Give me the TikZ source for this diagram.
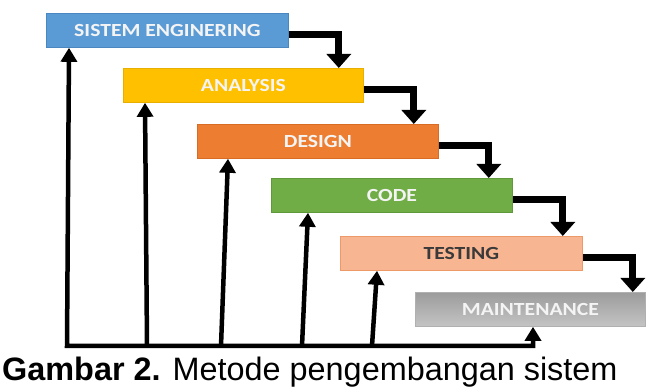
\documentclass[tikz,border=0pt]{standalone}
\usepackage{fontspec}
\setmainfont{Liberation Sans}
\newfontfamily\boxfont[FakeStretch=1.17]{Carlito}
\usetikzlibrary{arrows.meta}

\definecolor{seblue}{HTML}{5B9BD5}
\definecolor{sebluedk}{HTML}{4A86C0}
\definecolor{angold}{HTML}{FFC000}
\definecolor{angolddk}{HTML}{E8AE00}
\definecolor{deorange}{HTML}{ED7D31}
\definecolor{deorangedk}{HTML}{D86C24}
\definecolor{cogreen}{HTML}{70AD47}
\definecolor{cogreendk}{HTML}{5F9A3A}
\definecolor{tesalmon}{HTML}{F8B592}
\definecolor{tesalmondk}{HTML}{EE9A68}
\definecolor{magraytop}{HTML}{9C9C9C}
\definecolor{magraybot}{HTML}{C4C4C4}
\definecolor{magraydk}{HTML}{B0B0B0}
\definecolor{tetext}{HTML}{3A3A3A}
\definecolor{boxtext}{HTML}{F4F4F4}

\begin{document}
\begin{tikzpicture}[x=1pt,y=-1pt,
  phase/.style={draw, line width=0.8pt, anchor=north west, inner sep=0pt,
    minimum height=34pt, text=boxtext,
    font=\boxfont\bfseries\fontsize{18.5}{20}\selectfont},
  elbow/.style={line width=7pt, line join=miter,
    -{Triangle[width=24pt,length=14pt]}},
  fb/.style={line width=4.5pt, line join=miter,
    -{Triangle[width=16pt,length=14pt]}},
  fbboth/.style={line width=4.5pt, line join=miter,
    {Triangle[width=16pt,length=14pt]}-{Triangle[width=16pt,length=14pt]}}
]
\useasboundingbox (0,0) rectangle (646,387);

% phases of the waterfall
\node[phase, minimum width=242pt, fill=seblue, draw=sebluedk] (se) at (46,13) {SISTEM ENGINERING};
\node[phase, minimum width=240pt, fill=angold, draw=angolddk] (an) at (123,68) {ANALYSIS};
\node[phase, minimum width=241pt, fill=deorange, draw=deorangedk] (de) at (197,124) {DESIGN};
\node[phase, minimum width=241pt, fill=cogreen, draw=cogreendk] (co) at (271,178) {CODE};
\node[phase, minimum width=242pt, fill=tesalmon, draw=tesalmondk, text=tetext] (te) at (340,236) {TESTING};
\node[phase, minimum width=230pt, top color=magraytop, bottom color=magraybot, draw=magraydk] (ma) at (415,292) {MAINTENANCE};

% forward steps
\draw[elbow] ([yshift=-4pt]se.east) -| ([xshift=50pt]se.east |- an.north);
\draw[elbow] ([yshift=-4pt]an.east) -| ([xshift=50pt]an.east |- de.north);
\draw[elbow] ([yshift=-4pt]de.east) -| ([xshift=50pt]de.east |- co.north);
\draw[elbow] ([yshift=-4pt]co.east) -| ([xshift=50pt]co.east |- te.north);
\draw[elbow] ([yshift=-4pt]te.east) -| ([xshift=50pt]te.east |- ma.north);

% feedback rail
\coordinate (b1) at (67,346);
\coordinate (b2) at (147,346);
\coordinate (b3) at (221,346);
\coordinate (b4) at (302,346);
\coordinate (b5) at (372,346);
\coordinate (b6) at (533,346);

\draw[fbboth] ([xshift=118pt]ma.south west) -- (b6) -- (b1) -- ([xshift=23pt]se.south west);
\draw[fb] (b2) -- ([xshift=22pt]an.south west);
\draw[fb] (b3) -- ([xshift=31pt]de.south west);
\draw[fb] (b4) -- ([xshift=37pt]co.south west);
\draw[fb] (b5) -- ([xshift=37pt]te.south west);

% caption
\node[anchor=base west, inner sep=0pt, font=\fontsize{32.4}{36}\selectfont] (cap) at (2,381)
  {\textbf{Gambar 2.} Metode pengembangan sistem};
\end{tikzpicture}
\end{document}
